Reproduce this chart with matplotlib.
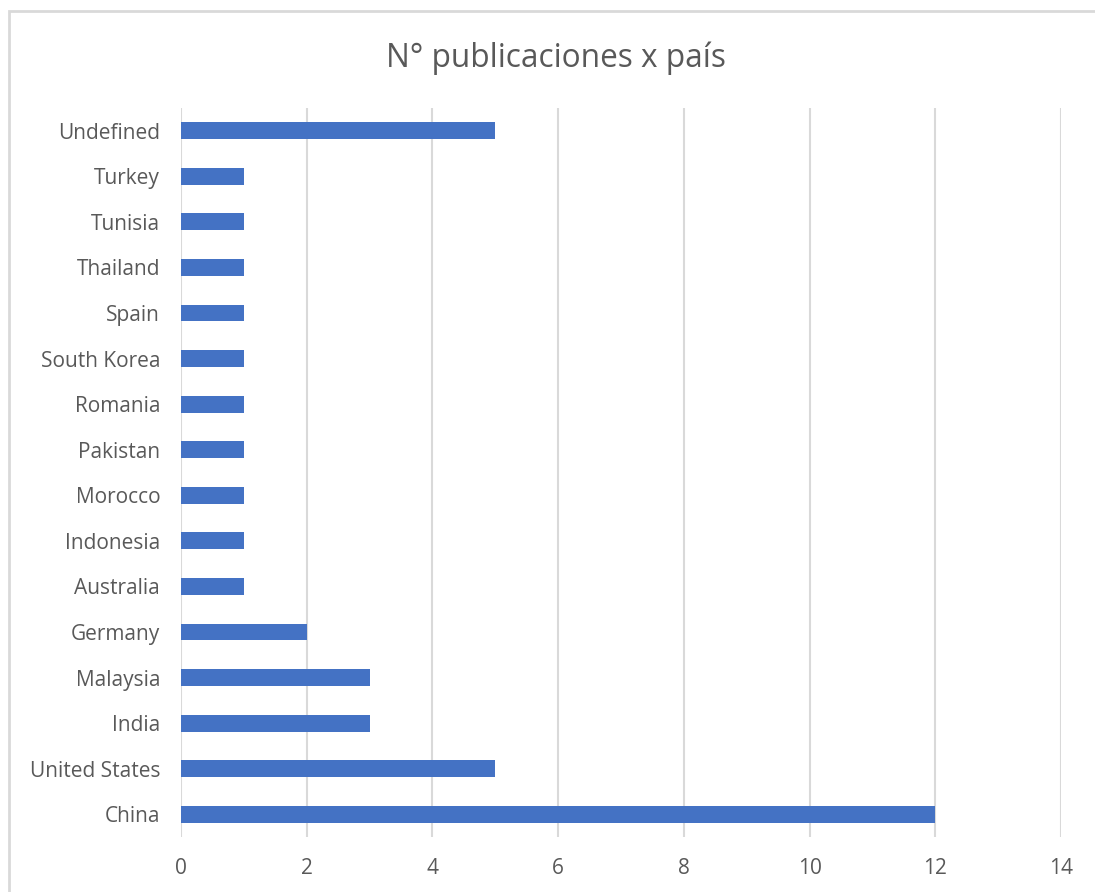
"""Horizontal bar chart: publications per country."""

import matplotlib
matplotlib.use('Agg')
import matplotlib.pyplot as plt
from matplotlib.patches import Rectangle

countries = ['China', 'United States', 'India', 'Malaysia', 'Germany',
             'Australia', 'Indonesia', 'Morocco', 'Pakistan', 'Romania',
             'South Korea', 'Spain', 'Thailand', 'Tunisia', 'Turkey',
             'Undefined']
counts = [12, 5, 3, 3, 2, 1, 1, 1, 1, 1, 1, 1, 1, 1, 1, 5]
x_ticks = [0, 2, 4, 6, 8, 10, 12, 14]

TEXT = '#595959'
GRID = '#d9d9d9'
BAR = '#4472c4'

plt.rcParams['font.family'] = ['Open Sans', 'DejaVu Sans']

W, H = 1095, 892
fig = plt.figure(figsize=(W / 100, H / 100), dpi=100)

# chart frame (right/bottom edges run off the image)
fig.patches.append(Rectangle((9 / W, -0.1), 1.2, 1 - 11 / H + 0.1,
                             transform=fig.transFigure, fill=False,
                             edgecolor=GRID, linewidth=2))

ax = fig.add_axes([181 / W, 1 - 837 / H, (1061 - 181) / W, (837 - 108) / H])
y = range(len(countries))
ax.barh(y, counts, height=0.37, color=BAR, zorder=3)

ax.set_xlim(0, 14)
ax.set_ylim(-0.5, len(countries) - 0.5)
ax.set_xticks(x_ticks)
ax.set_yticks(list(y))
ax.set_yticklabels(countries)
ax.xaxis.grid(True, color=GRID, linewidth=1.5, zorder=0)
ax.tick_params(axis='both', length=0, labelsize=15, colors=TEXT)
ax.tick_params(axis='x', pad=15)
ax.tick_params(axis='y', pad=15)
for side in ax.spines.values():
    side.set_visible(False)

fig.text(556 / W, 1 - 58 / H, 'N° publicaciones x país', ha='center',
         va='center', fontsize=22.8, color=TEXT)

fig.savefig('out.png', dpi=100)
